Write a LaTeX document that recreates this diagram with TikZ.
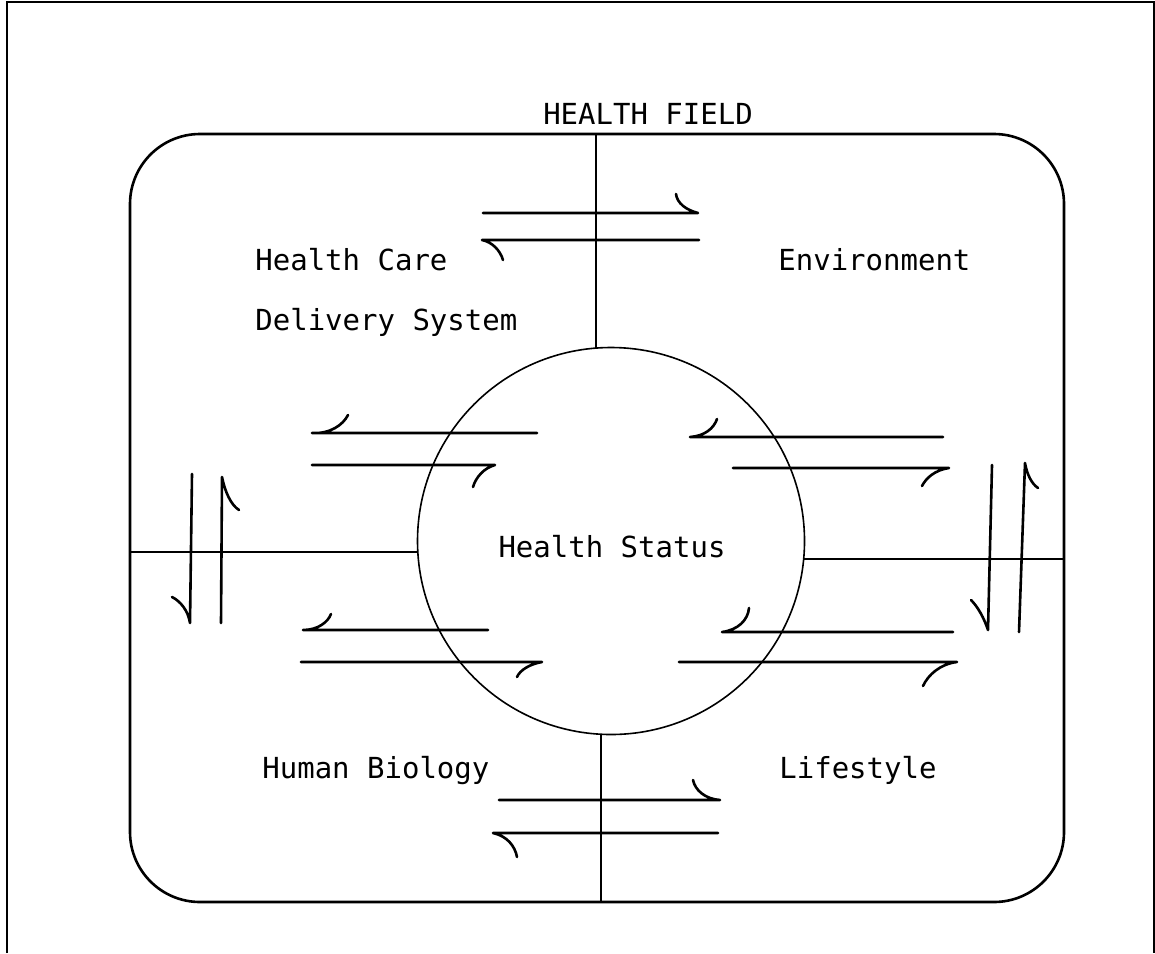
\documentclass[tikz,border=0pt]{standalone}
\usepackage{fontspec}
\newfontfamily\typefont{DejaVu Sans Mono}
\begin{document}
\begin{tikzpicture}[x=0.5pt,y=-0.5pt,
  frameline/.style={line width=0.7pt},
  fieldbox/.style={line width=1.3pt, rounded corners=35pt},
  divider/.style={line width=0.8pt},
  flow/.style={line width=1.3pt, line cap=round, line join=round},
  label/.style={font=\typefont\fontsize{14.5}{17}\selectfont, inner sep=0pt, anchor=base west}]
\useasboundingbox (0,0) rectangle (1155,953);

% page frame
\draw[frameline] (7,953) -- (7,2) -- (1154,2) -- (1154,953);

% title
\node[label, anchor=base] (title) at (648,124) {HEALTH FIELD};

% health field boundary
\draw[fieldbox] (130,134) rectangle (1064,902);

% central health status circle
\node[circle, draw, line width=0.8pt, minimum size=193.5pt, inner sep=0pt] (status) at (611,541) {};
\node[label, anchor=base] (statustext) at (612,557) {Health Status};

% quadrant dividers
\coordinate (topedge) at (596,134);
\coordinate (bottomedge) at (601,902);
\coordinate (leftedge) at (130,552);
\coordinate (rightedge) at (1064,559);
\draw[divider] (topedge) -- (596,348);
\draw[divider] (601,734) -- (bottomedge);
\draw[divider] (leftedge) -- (418,552);
\draw[divider] (804,559) -- (rightedge);

% quadrant labels
\node[label] (care) at (255,270) {Health Care};
\node[label] (delivery) at (255,330) {Delivery System};
\node[label] (env) at (778,270) {Environment};
\node[label] (bio) at (262,778) {Human Biology};
\node[label] (life) at (779,778) {Lifestyle};

% exchange arrows: top
\draw[flow] (676,194) .. controls (677,203) and (686,210) .. (698,213) -- (483,213);
\draw[flow] (503,260) .. controls (500,250) and (492,242) .. (482,240) -- (699,240);

% upper left
\draw[flow] (348,415) .. controls (343,425) and (330,434) .. (312,433) -- (537,433);
\draw[flow] (473,487) .. controls (476,477) and (484,468) .. (495,465) -- (312,465);

% upper right
\draw[flow] (717,419) .. controls (714,428) and (705,436) .. (690,437) -- (943,437);
\draw[flow] (922,486) .. controls (926,478) and (935,470) .. (949,468) -- (733,468);

% left side
\draw[flow] (172,597) .. controls (180,601) and (188,610) .. (190,623) -- (192,474);
\draw[flow] (239,510) .. controls (231,505) and (225,492) .. (222,477) -- (221,623);

% right side
\draw[flow] (971,600) .. controls (978,607) and (984,618) .. (988,630) -- (992,465);
\draw[flow] (1038,488) .. controls (1032,484) and (1027,475) .. (1025,463) -- (1019,632);

% lower left
\draw[flow] (331,614) .. controls (328,622) and (318,630) .. (303,630) -- (488,630);
\draw[flow] (517,677) .. controls (520,670) and (530,664) .. (542,662) -- (301,662);

% lower right
\draw[flow] (749,608) .. controls (748,620) and (738,630) .. (722,632) -- (953,632);
\draw[flow] (923,686) .. controls (928,675) and (940,664) .. (957,662) -- (679,662);

% bottom
\draw[flow] (693,780) .. controls (695,790) and (705,799) .. (720,800) -- (499,800);
\draw[flow] (517,857) .. controls (515,846) and (507,836) .. (493,833) -- (718,833);
\end{tikzpicture}
\end{document}
